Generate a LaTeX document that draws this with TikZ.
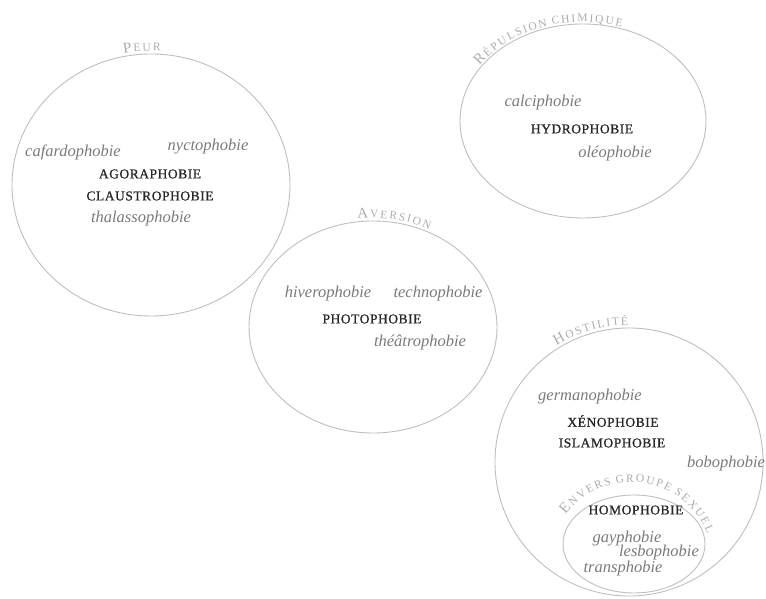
\documentclass[tikz,border=0pt]{standalone}
\usepackage{fontspec}
\setmainfont{Liberation Serif}
\newfontfamily\lblfont{Liberation Serif}
\newfontfamily\majfont{Liberation Serif}[LetterSpace=4, FakeBold=0.8]
\usetikzlibrary{decorations.text,shapes.geometric}
\definecolor{ringc}{HTML}{BEBEBE}
\definecolor{lblc}{HTML}{ADADAD}
\definecolor{minorc}{HTML}{7A7A7A}
\definecolor{majorc}{HTML}{262626}
\newdimen\lsp \lsp=1.8pt
\newdimen\wsp \wsp=5pt
\newcommand\lblbig{\lblfont\color{lblc}\fontsize{15}{16}\selectfont}
\newcommand\lblsml{\lblfont\color{lblc}\fontsize{11.5}{12}\selectfont}
\tikzset{
  ring/.style={draw=ringc, line width=0.9pt, ellipse, inner sep=0pt},
  minor/.style={font=\fontsize{16.5}{18}\selectfont\itshape, text=minorc, inner sep=0pt},
  major/.style={font=\majfont\fontsize{13.5}{15}\selectfont, text=majorc, inner sep=0pt},
  curved/.style={decorate, decoration={text along path, text align=left, text={#1}}},
}
\begin{document}
\begin{tikzpicture}[x=1pt,y=1pt]
\useasboundingbox (0,0) rectangle (766,599);
% rings
\node[ring, minimum width=278pt, minimum height=262pt] (peur) at (151,414) {};
\node[ring, minimum width=246pt, minimum height=194pt] (rep) at (583,478) {};
\node[ring, minimum width=248pt, minimum height=212pt] (aver) at (373,272) {};
\node[ring, minimum width=268pt, minimum height=268pt] (host) at (629,137) {};
\node[ring, minimum width=142pt, minimum height=98pt] (sex) at (634,55) {};
% curved labels
\path[curved={|\lblbig|{P\kern\lsp}|\lblsml|{E\kern\lsp}{U\kern\lsp}{R}}]
  ([shift={(101:142pt and 134pt)}]peur.center) arc[start angle=101, end angle=20, x radius=142pt, y radius=134pt];
\path[curved={|\lblbig|{R\kern\lsp}|\lblsml|{É\kern\lsp}{P\kern\lsp}{U\kern\lsp}{L\kern\lsp}{S\kern\lsp}{I\kern\lsp}{O\kern\lsp}{N\kern\wsp}{C\kern\lsp}{H\kern\lsp}{I\kern\lsp}{M\kern\lsp}{I\kern\lsp}{Q\kern\lsp}{U\kern\lsp}{E}}]
  ([shift={(146:125pt and 99pt)}]rep.center) arc[start angle=146, end angle=10, x radius=125pt, y radius=99pt];
\path[curved={|\lblbig|{A\kern\lsp}|\lblsml|{V\kern\lsp}{E\kern\lsp}{R\kern\lsp}{S\kern\lsp}{I\kern\lsp}{O\kern\lsp}{N}}]
  ([shift={(97:127pt and 109pt)}]aver.center) arc[start angle=97, end angle=20, x radius=127pt, y radius=109pt];
\path[curved={|\lblbig|{H\kern\lsp}|\lblsml|{O\kern\lsp}{S\kern\lsp}{T\kern\lsp}{I\kern\lsp}{L\kern\lsp}{I\kern\lsp}{T\kern\lsp}{É}}]
  ([shift={(122:137pt and 137pt)}]host.center) arc[start angle=122, end angle=40, x radius=137pt, y radius=137pt];
\coordinate (sexc) at (631,35);
\path[curved={|\lblbig|{E\kern\lsp}|\lblsml|{N\kern\lsp}{V\kern\lsp}{E\kern\lsp}{R\kern\lsp}{S\kern\wsp}{G\kern\lsp}{R\kern\lsp}{O\kern\lsp}{U\kern\lsp}{P\kern\lsp}{E\kern\wsp}{S\kern\lsp}{E\kern\lsp}{X\kern\lsp}{U\kern\lsp}{E\kern\lsp}{L}}]
  ([shift={(143:82pt and 82pt)}]sexc) arc[start angle=143, end angle=-30, x radius=82pt, y radius=82pt];
% Peur
\node[minor] (cafard) at (73,447) {cafardophobie};
\node[minor] (nycto) at (208,452) {nyctophobie};
\node[major] (agora) at (150,425) {AGORAPHOBIE};
\node[major] (claustro) at (150,403) {CLAUSTROPHOBIE};
\node[minor] (thalasso) at (141,380) {thalassophobie};
% Repulsion
\node[minor] (calci) at (543,496) {calciphobie};
\node[major] (hydro) at (582,470) {HYDROPHOBIE};
\node[minor] (oleo) at (615,445) {oléophobie};
% Aversion
\node[minor] (hivero) at (328,305) {hiverophobie};
\node[minor] (techno) at (438,305) {technophobie};
\node[major] (photo) at (372,280) {PHOTOPHOBIE};
\node[minor] (theatro) at (420,256) {théâtrophobie};
% Hostilite
\node[minor] (germano) at (590,202) {germanophobie};
\node[major] (xeno) at (613,178) {XÉNOPHOBIE};
\node[major] (islamo) at (612,156) {ISLAMOPHOBIE};
\node[minor] (bobo) at (726,135) {bobophobie};
\node[major] (homo) at (636,89) {HOMOPHOBIE};
\node[minor] (gay) at (627,60) {gayphobie};
\node[minor] (lesbo) at (659,46) {lesbophobie};
\node[minor] (trans) at (623,30) {transphobie};
\end{tikzpicture}
\end{document}
